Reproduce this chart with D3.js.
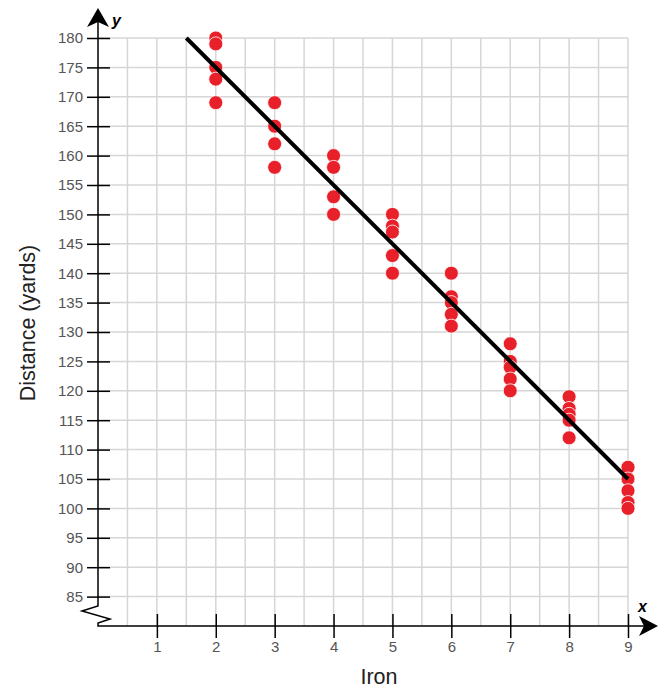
<!DOCTYPE html>
<html><head><meta charset="utf-8">
<script src="https://cdn.jsdelivr.net/npm/d3@7"></script>
<style>body{margin:0;background:#fff}svg{display:block}text{font-family:"Liberation Sans",Arial,sans-serif}</style>
</head><body>
<svg id="c" width="670" height="698"></svg>
<script>
const xTicks = [1,2,3,4,5,6,7,8,9];
const yTicks = [85,90,95,100,105,110,115,120,125,130,135,140,145,150,155,160,165,170,175,180];
const irons = [2,2,2,2,2, 3,3,3,3, 4,4,4,4, 5,5,5,5,5, 6,6,6,6,6, 7,7,7,7,7, 8,8,8,8,8, 9,9,9,9,9];
const distances = [180,179,175,173,169, 169,165,162,158, 160,158,153,150, 150,148,147,143,140, 140,136,135,133,131, 128,125,124,122,120, 119,117,116,115,112, 107,105,103,101,100];
const fitLine = [[1.5,180],[9,105]];
const xTitle = "Iron", yTitle = "Distance (yards)";

const svg = d3.select("#c");
const x = d3.scaleLinear().domain([0,9]).range([98,628]);
const y = d3.scaleLinear().domain([80,180]).range([626,38]);

// grid
const g = svg.append("g").attr("stroke","#d6d6d6").attr("stroke-width",1.5);
d3.range(0.5,9.01,0.5).forEach(v=>g.append("line").attr("x1",x(v)).attr("x2",x(v)).attr("y1",y(180)).attr("y2",y(80)));
yTicks.forEach(v=>g.append("line").attr("x1",x(0)).attr("x2",x(9)).attr("y1",y(v)).attr("y2",y(v)));

// y axis
const ya = svg.append("g").attr("transform",`translate(${x(0)},0)`).call(d3.axisLeft(y).tickValues(yTicks).tickSize(11).tickPadding(4));
ya.select(".domain").remove();
ya.selectAll(".tick line").attr("x1",12).attr("x2",-11).attr("stroke","#000").attr("stroke-width",1.5);
ya.selectAll(".tick text").attr("font-size",15).attr("fill","#555").attr("font-family","Liberation Sans, Arial, sans-serif");

// x axis
const xa = svg.append("g").attr("transform",`translate(0,${y(80)})`).call(d3.axisBottom(x).tickValues(xTicks).tickSize(12).tickPadding(3));
xa.select(".domain").remove();
xa.selectAll(".tick line").attr("y1",-12).attr("y2",12).attr("stroke","#000").attr("stroke-width",1.5);
xa.selectAll(".tick text").attr("font-size",15).attr("fill","#555").attr("font-family","Liberation Sans, Arial, sans-serif");

// axis lines
const x0 = x(0), yb = y(80);
svg.append("path").attr("fill","none").attr("stroke","#000").attr("stroke-width",1.5)
  .attr("d",`M${x0},16 L${x0},${yb-20} L${x0-16},${yb-15} L${x0+12},${yb-7} L${x0},${yb-3} L${x0},${yb} L645,${yb}`);
svg.append("path").attr("fill","#000").attr("d",`M${x0},8 L${x0+11},27 L${x0},22 L${x0-11},27 Z`);
svg.append("path").attr("fill","#000").attr("d",`M658,${yb} L639,${yb+10} L644,${yb} L639,${yb-10} Z`);
svg.append("text").attr("x",112).attr("y",26).attr("font-family","DejaVu Serif, serif").attr("font-style","italic").attr("font-weight","bold").attr("font-size",16).text("y");
svg.append("text").attr("x",638).attr("y",612).attr("font-family","DejaVu Serif, serif").attr("font-style","italic").attr("font-weight","bold").attr("font-size",16).text("x");

// titles
svg.append("text").attr("x",379).attr("y",684).attr("text-anchor","middle").attr("font-size",21.5).attr("fill","#222").text(xTitle);
svg.append("text").attr("transform","translate(35,323) rotate(-90)").attr("text-anchor","middle").attr("font-size",21.5).attr("fill","#222").text(yTitle);

// points
svg.append("g").selectAll("circle").data(irons.map((d,i)=>[d,distances[i]])).join("circle")
  .attr("cx",d=>x(d[0])).attr("cy",d=>y(d[1])).attr("r",7).attr("fill","#e8202a").attr("stroke","#fff").attr("stroke-width",0.8);

// fit line
svg.append("path").attr("fill","none").attr("stroke","#000").attr("stroke-width",4)
  .attr("d",d3.line().x(d=>x(d[0])).y(d=>y(d[1]))(fitLine));
</script>
</body></html>
